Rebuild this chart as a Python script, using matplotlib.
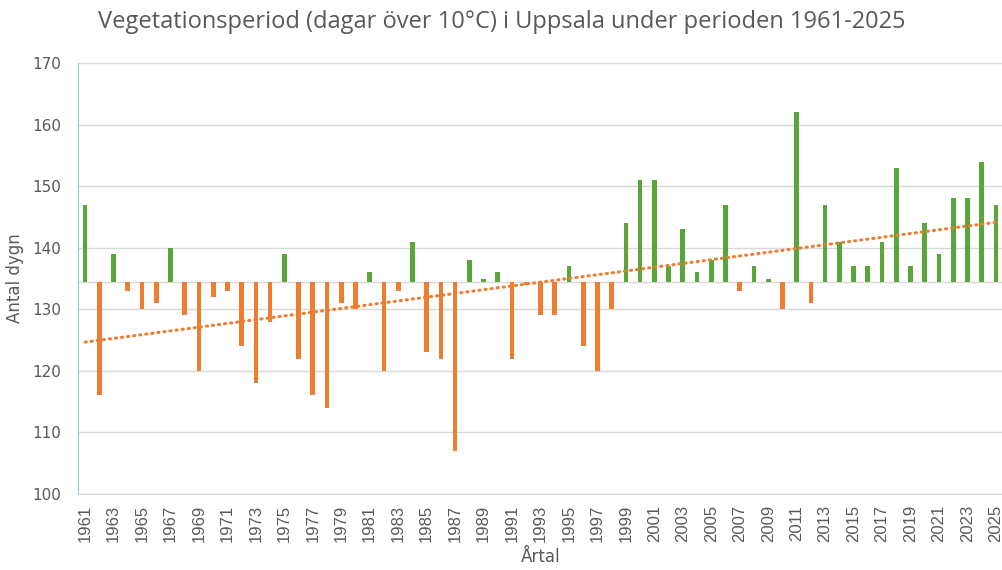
import numpy as np
import matplotlib
matplotlib.use("Agg")
import matplotlib.pyplot as plt

# Vegetationsperiod Uppsala, dagar över 10°C
years = list(range(1961, 2026))
days = [147, 116, 139, 133, 130, 131, 140, 129, 120, 132,
        133, 124, 118, 128, 139, 122, 116, 114, 131, 130,
        136, 120, 133, 141, 123, 122, 107, 138, 135, 136,
        122, 134, 129, 129, 137, 124, 120, 130, 144, 151,
        151, 137, 143, 136, 138, 147, 133, 137, 135, 130,
        162, 131, 147, 141, 137, 137, 141, 153, 137, 144,
        139, 148, 148, 154, 147]
tick_years = list(range(1961, 2026, 2))

GREEN = '#5BA63A'
ORANGE = '#ED7D31'
TXT = '#595959'

def main():
    x = np.array(years)
    y = np.array(days, dtype=float)
    base = y.mean()

    fig = plt.figure(figsize=(10.03, 5.70), dpi=100)
    ax = fig.add_axes([78 / 1003, 1 - 494 / 570, 925 / 1003, 431 / 570])

    colors = [GREEN if v > base else ORANGE for v in y]
    ax.bar(x, y - base, bottom=base, width=0.33, color=colors, zorder=3)
    ax.axhline(base, color='#D9D9D9', lw=1, zorder=2)

    # linjär trend
    k, m = np.polyfit(x, y, 1)
    ax.plot(x, k * x + m, color=ORANGE, lw=2.2, ls=(0, (0.4, 1.6)),
            dash_capstyle='round', zorder=4)

    ax.set_xlim(1960.5, 2025.5)
    ax.set_ylim(100, 170)
    ax.set_yticks(range(100, 171, 10))
    ax.yaxis.grid(True, color='#D9D9D9', lw=1, zorder=0)
    ax.set_axisbelow(True)

    ax.set_xticks(tick_years)
    ax.set_xticklabels([str(t) for t in tick_years], rotation=90,
                       family='Liberation Sans', fontsize=12, color=TXT)
    for lab in ax.get_yticklabels():
        lab.set_fontsize(11)
        lab.set_color(TXT)
    ax.tick_params(axis='x', length=0, pad=8)
    ax.tick_params(axis='y', length=0, pad=12)

    for s in ['top', 'right']:
        ax.spines[s].set_visible(False)
    ax.spines['bottom'].set_color('#D9D9D9')
    ax.spines['left'].set_color('#9DC3E6')

    ax.set_xlabel('Årtal', fontsize=12, color=TXT, labelpad=4)
    ax.set_ylabel('Antal dygn', fontsize=12, color=TXT, labelpad=6)
    fig.text(0.5, 1 - 22 / 570, 'Vegetationsperiod (dagar över 10°C) i Uppsala under perioden 1961-2025',
             ha='center', va='center', fontsize=17, color=TXT, family='Open Sans')

    fig.savefig('out.png', dpi=100)

if __name__ == '__main__':
    main()
